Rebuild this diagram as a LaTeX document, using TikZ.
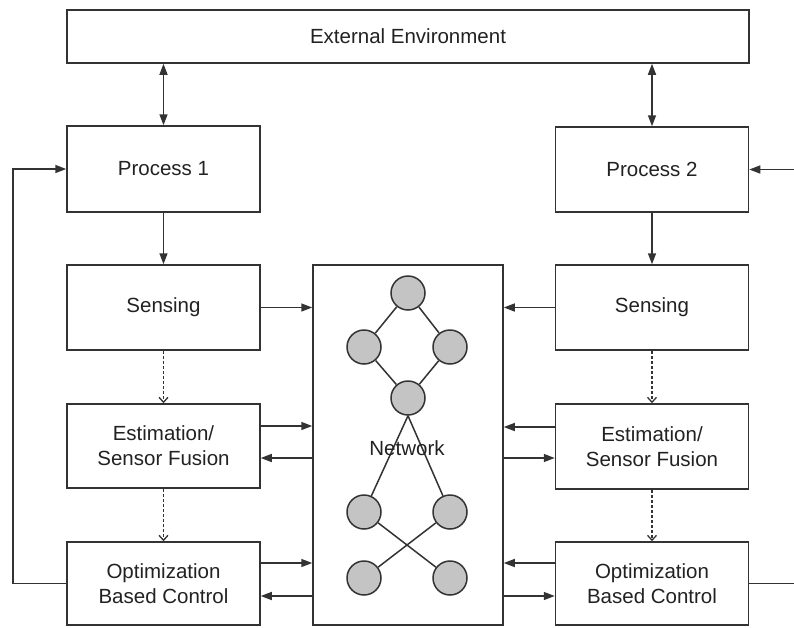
\documentclass[tikz,border=0pt]{standalone}
\usepackage{fontspec}
\setmainfont{Liberation Sans}
\usetikzlibrary{arrows.meta}
\definecolor{linec}{HTML}{333333}
\definecolor{textc}{HTML}{222222}
\definecolor{nodefill}{HTML}{C4C4C4}
\begin{document}
\begin{tikzpicture}[x=1pt,y=-1pt,
  box/.style={draw=linec, line width=1.5pt, fill=white, inner sep=0pt, align=center,
    text=textc, font=\fontsize{20.5}{25}\selectfont},
  sidebox/.style={box, minimum width=193pt, minimum height=84pt},
  conn/.style={draw=linec, line width=1.5pt},
  arr/.style={conn, -{Triangle[length=11pt,width=8pt]}},
  darr/.style={conn, {Triangle[length=11pt,width=8pt]}-{Triangle[length=11pt,width=8pt]}},
  dasharr/.style={conn, line width=1.3pt, dash pattern=on 3pt off 2pt, -{Straight Barb[length=5pt,width=9pt]}},
  netnode/.style={circle, draw=linec, line width=1.5pt, fill=nodefill, minimum size=34pt, inner sep=0pt},
  netedge/.style={draw=linec, line width=1.5pt}]
\useasboundingbox (0,0) rectangle (794,627);

% boxes
\node[box, minimum width=682pt, minimum height=53pt] (EE) at (408,36.5) {External Environment};
\node[sidebox, minimum height=86pt] (P1) at (163.5,169) {Process 1};
\node[sidebox, minimum height=85pt] (P2) at (652,169.5) {Process 2};
\node[sidebox, minimum height=85pt] (SL) at (163.5,307.5) {Sensing};
\node[sidebox, minimum height=85pt] (SR) at (652,307.5) {Sensing};
\node[sidebox] (EL) at (163.5,446) {Estimation/\\Sensor Fusion};
\node[sidebox, minimum height=85pt] (ER) at (652,446.5) {Estimation/\\Sensor Fusion};
\node[sidebox, minimum height=83pt] (OL) at (163.5,583.5) {Optimization\\Based Control};
\node[sidebox, minimum height=83pt] (OR) at (652,583.5) {Optimization\\Based Control};
\node[box, minimum width=190pt, minimum height=360pt] (NET) at (408,445) {};

% network graph
\node[netnode] (n1) at (408,293) {};
\node[netnode] (n2) at (364,347) {};
\node[netnode] (n3) at (450,347) {};
\node[netnode] (n4) at (408,398) {};
\node[netnode] (n5) at (364,512) {};
\node[netnode] (n6) at (450,512) {};
\node[netnode] (n7) at (364,578) {};
\node[netnode] (n8) at (450,578) {};
\draw[netedge] (n1) -- (n2);
\draw[netedge] (n1) -- (n3);
\draw[netedge] (n2) -- (n4);
\draw[netedge] (n3) -- (n4);
\draw[netedge] (n4.south) -- (n5);
\draw[netedge] (n4.south) -- (n6);
\draw[netedge] (n5) -- (n8);
\draw[netedge] (n6) -- (n7);
\node[text=textc, font=\fontsize{20.5}{25}\selectfont] (netlabel) at (407,448) {Network};

% environment <-> processes
\draw[darr] (P1.north |- EE.south) -- (P1.north);
\draw[darr] (P2.north |- EE.south) -- (P2.north);
% process -> sensing
\draw[arr] (P1) -- (SL);
\draw[arr] (P2) -- (SR);
% dashed flows
\draw[dasharr] (SL) -- (EL);
\draw[dasharr] (EL) -- (OL);
\draw[dasharr] (SR) -- (ER);
\draw[dasharr] (ER) -- (OR);

% left side <-> network
\draw[arr] (SL.east) -- (SL.east -| NET.west);
\draw[arr] ([yshift=20pt]EL.east) -- ([yshift=20pt]EL.east -| NET.west);
\draw[arr] ([yshift=-12pt]EL.east -| NET.west) -- ([yshift=-12pt]EL.east);
\draw[arr] ([yshift=20.5pt]OL.east) -- ([yshift=20.5pt]OL.east -| NET.west);
\draw[arr] ([yshift=-12.5pt]OL.east -| NET.west) -- ([yshift=-12.5pt]OL.east);

% right side <-> network
\draw[arr] (SR.west) -- (SR.west -| NET.east);
\draw[arr] ([yshift=19.5pt]ER.west) -- ([yshift=19.5pt]ER.west -| NET.east);
\draw[arr] ([yshift=-11.5pt]ER.west -| NET.east) -- ([yshift=-11.5pt]ER.west);
\draw[arr] ([yshift=20.5pt]OR.west) -- ([yshift=20.5pt]OR.west -| NET.east);
\draw[arr] ([yshift=-12.5pt]OR.west -| NET.east) -- ([yshift=-12.5pt]OR.west);

% feedback loops
\coordinate (fbL) at (13,0);
\coordinate (fbR) at (794,0);
\draw[arr] (OL.west) -- (OL.west -| fbL) -- (P1.west -| fbL) -- (P1.west);
\draw[conn] (OR.east) -- (OR.east -| fbR);
\draw[arr] (P2.east -| fbR) -- (P2.east);
\end{tikzpicture}
\end{document}
